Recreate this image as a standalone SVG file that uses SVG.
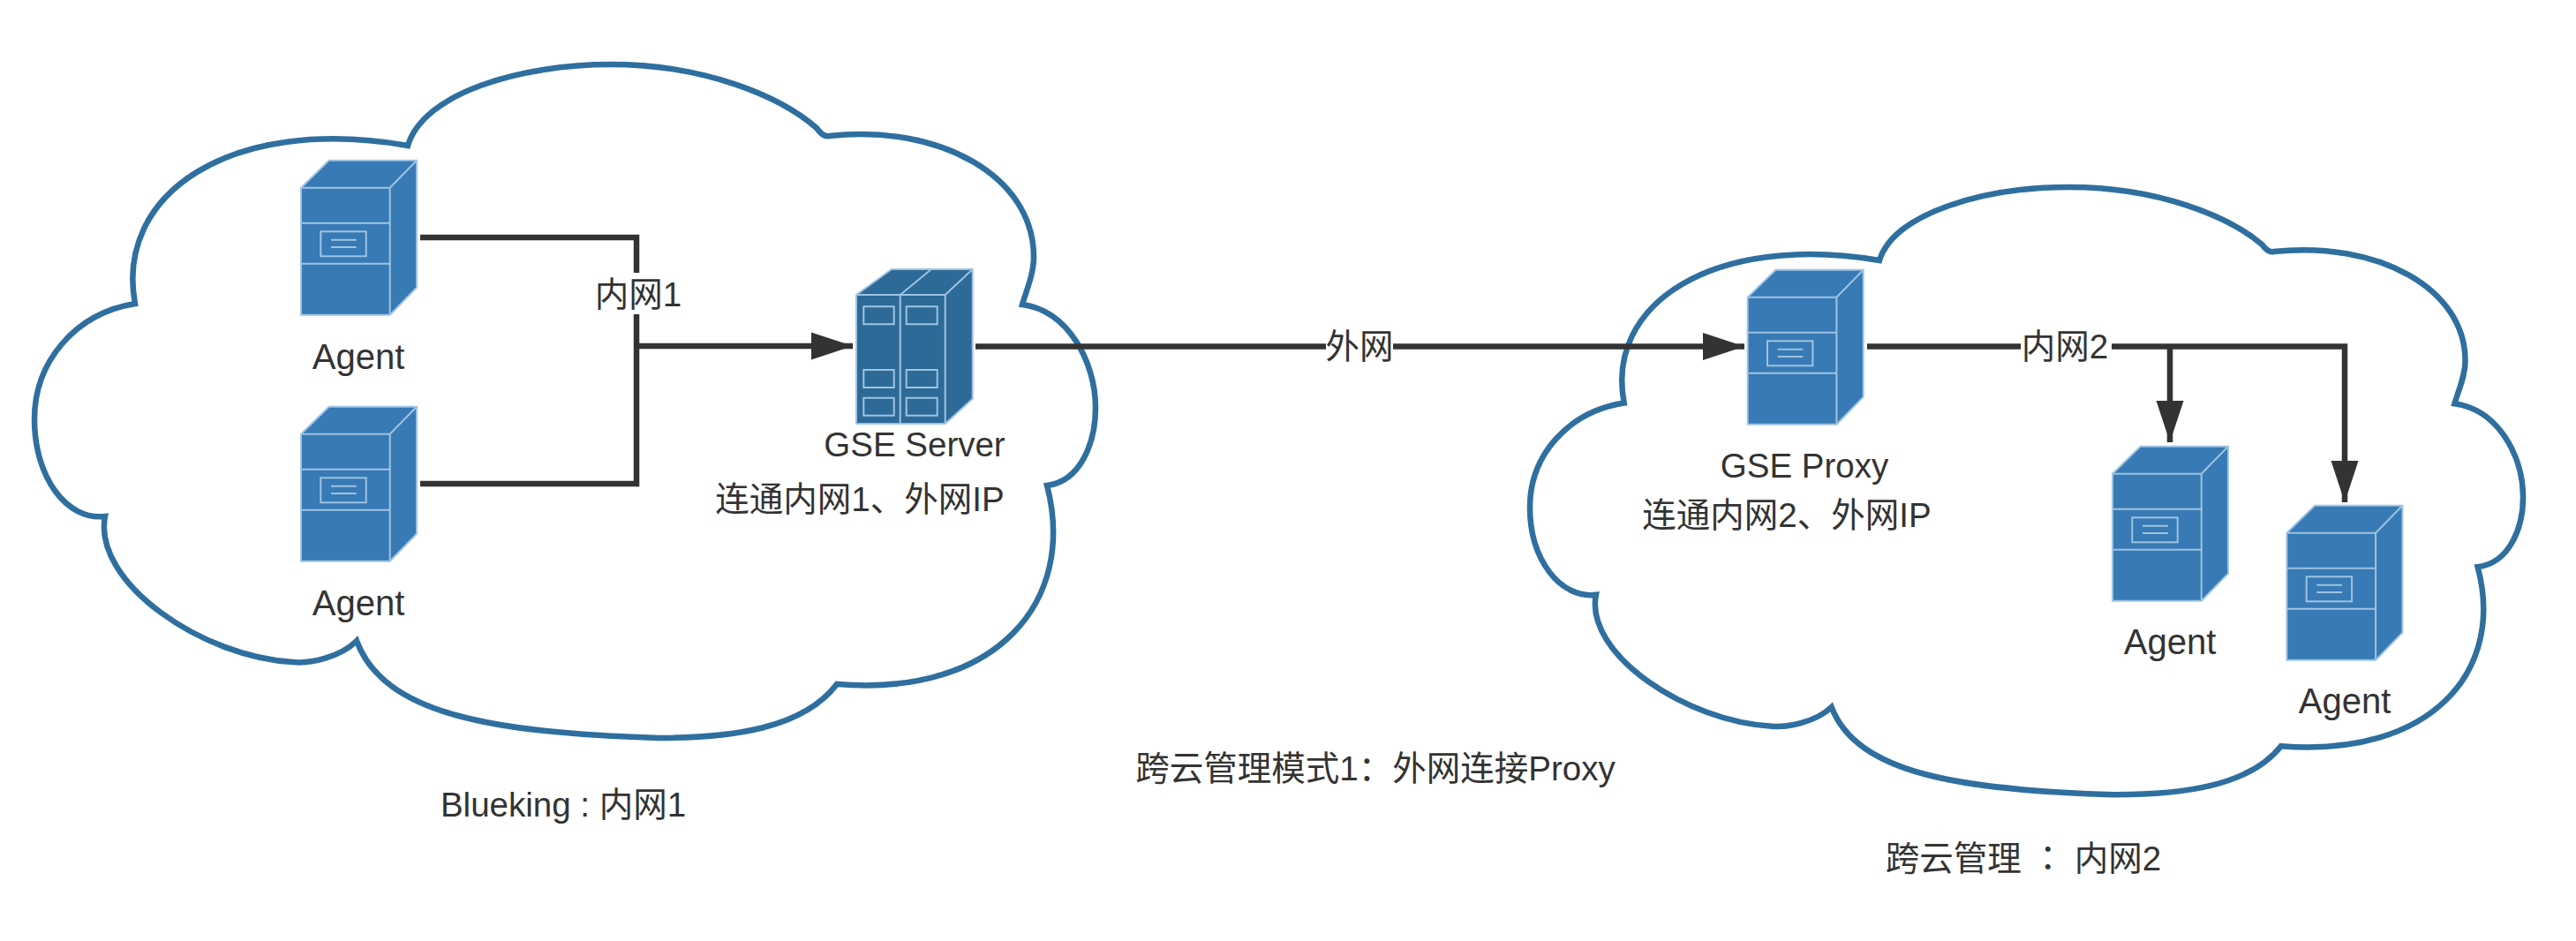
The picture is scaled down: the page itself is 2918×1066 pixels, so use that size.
<svg xmlns="http://www.w3.org/2000/svg" xmlns:xlink="http://www.w3.org/1999/xlink" width="2918" height="1066" viewBox="0 0 2918 1066">
<style>
text{font-family:"Liberation Sans","Noto Sans CJK SC",sans-serif;font-size:38.5px;fill:#333;text-anchor:middle}
.a{font-size:40px}
.tc{font-family:"Noto Sans CJK TC",sans-serif}
.cloud{fill:#fff;stroke:#2f6f9f;stroke-width:6.5;vector-effect:non-scaling-stroke;stroke-linejoin:miter}
.f{fill:#377ab5;stroke:#9fc3e2;stroke-width:2}
.d{fill:#2d6a97;stroke:#9fc3e2;stroke-width:2}
.l{fill:none;stroke:#9fc3e2;stroke-width:2}
.c{fill:none;stroke:#333;stroke-width:6.5}
.bg{fill:#fff;stroke:none}
</style>
<defs>
<marker id="arrow" markerUnits="userSpaceOnUse" markerWidth="48" markerHeight="32" refX="47" refY="16" orient="auto"><path d="M0,0.5L47,16L0,31.5Z" fill="#333"/></marker>
<path id="cloudshape" class="cloud" d="M462,165C480,105 590,73 692,73C800,73 885,110 925,145C930,152 935,155 939,154C1065,140 1171,200 1171,291C1171,310 1163,328 1158,345C1210,352 1241,410 1241,462C1241,500 1225,545 1186,550C1220,680 1130,790 948,775C910,825 830,836 746,836C560,830 435,810 404,726C385,745 350,752 332,750C230,745 105,660 119,585C75,590 39,540 39,475C39,410 85,355 153,344C130,220 260,130 462,165Z"/>
<g id="srv">
<path class="f" d="M341,212.7L372.7,181.7H472V325.7L441.7,356.7H341Z"/>
<path class="l" d="M341,212.7H441.7V356.7M441.7,212.7L472,181.7M341,252.7H441.7M341,298.7H441.7"/>
<rect class="l" x="363.3" y="262.3" width="51.4" height="28"/>
<path class="l" d="M375,271.7H403.7M375,280H403.7"/>
</g>
</defs>
<rect width="2918" height="1066" fill="#fff"/>
<g id="cloud-1"><use xlink:href="#cloudshape" href="#cloudshape"/></g>
<g id="cloud-2"><use xlink:href="#cloudshape" href="#cloudshape" transform="translate(1733,212) scale(0.936,0.902) translate(-39,-73)"/></g>
<g id="agent-1"><use href="#srv"/><text class="a" x="406" y="418">Agent</text></g>
<g id="agent-2"><use href="#srv" transform="translate(0,279)"/><text class="a" x="406" y="697">Agent</text></g>
<g id="gse-server">
<path class="d" d="M970,334L1010,305H1101.7V451.7L1070.7,480H970Z"/>
<path class="l" d="M970,334H1070.7V480M1070.7,334L1101.7,305M1019.7,334V480M1019.7,334L1055,305"/>
<path class="l" d="M978.3,347.3h34.4v20h-34.4zM1026.7,347.3h35v20h-35zM978.3,419h34.4v20h-34.4zM1026.7,419h35v20h-35zM978.3,450.7h34.4v20h-34.4zM1026.7,450.7h35v20h-35z"/>
<text x="1036" y="517">GSE Server</text>
<text x="974" y="579">连通内网1、外网IP</text>
</g>
<g id="gse-proxy"><use href="#srv" transform="translate(1638.7,124)"/>
<text x="2044" y="541">GSE Proxy</text>
<text x="2024" y="597">连通内网2、外网IP</text></g>
<g id="agent-3"><use href="#srv" transform="translate(2052,324)"/><text class="a" x="2458" y="741">Agent</text></g>
<g id="agent-4"><use href="#srv" transform="translate(2249.4,391)"/><text class="a" x="2656" y="808">Agent</text></g>
<g id="connectors">
<path class="c" d="M476,269H721V548H476"/>
<path class="c" d="M721,392H966" marker-end="url(#arrow)"/>
<path class="c" d="M1105,392.5H1976" marker-end="url(#arrow)"/>
<path class="c" d="M2115,392.5H2656V569" marker-end="url(#arrow)"/>
<path class="c" d="M2458,392.5V501" marker-end="url(#arrow)"/>
<rect class="bg" x="678" y="309" width="88" height="47"/><text x="723" y="347">内网1</text>
<rect class="bg" x="1502" y="370" width="76" height="44"/><text x="1540" y="406">外网</text>
<rect class="bg" x="2289" y="370" width="103" height="44"/><text x="2339" y="406">内网2</text>
</g>
<text id="label-1" x="638" y="925">Blueking : 内网1</text>
<text id="label-2" x="1558" y="884">跨云管理模式1：外网连接Proxy</text>
<text id="label-3" x="2292" y="986">跨云管理 <tspan class="tc">：</tspan> 内网2</text>
</svg>
